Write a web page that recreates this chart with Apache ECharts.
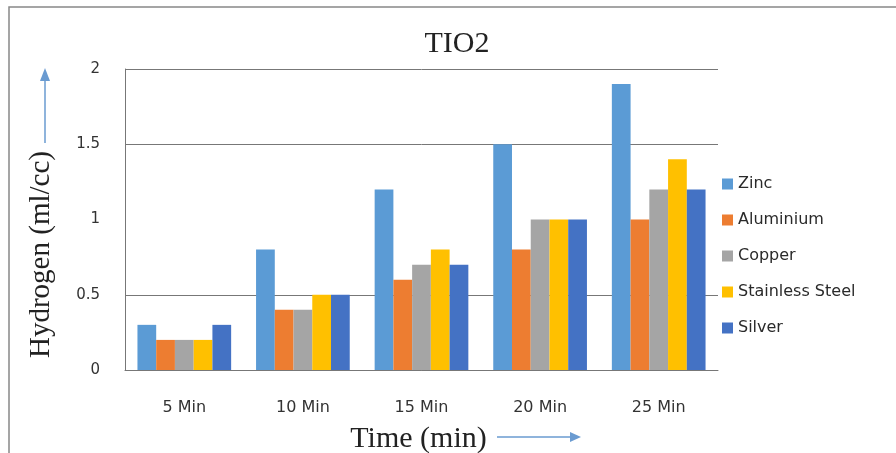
<!DOCTYPE html>
<html>
<head>
<meta charset="utf-8">
<script src="https://cdn.jsdelivr.net/npm/echarts@6/dist/echarts.min.js"></script>
<style>
  html, body { margin: 0; padding: 0; background: #fff; }
  #chart { width: 896px; height: 453px; }
</style>
</head>
<body>
<div id="chart"></div>
<script>
// Hydrogen produced with TiO2 over time, per electrode material
const categories = ['5 Min', '10 Min', '15 Min', '20 Min', '25 Min'];
const zinc = [0.3, 0.8, 1.2, 1.5, 1.9];
const aluminium = [0.2, 0.4, 0.6, 0.8, 1.0];
const copper = [0.2, 0.4, 0.7, 1.0, 1.2];
const stainlessSteel = [0.2, 0.5, 0.8, 1.0, 1.4];
const silver = [0.3, 0.5, 0.7, 1.0, 1.2];

const seriesNames = ['Zinc', 'Aluminium', 'Copper', 'Stainless Steel', 'Silver'];
const seriesData = [zinc, aluminium, copper, stainlessSteel, silver];
const colors = ['#5B9BD5', '#ED7D31', '#A5A5A5', '#FFC000', '#4472C4'];

const chart = echarts.init(document.getElementById('chart'));
const serif = '"Liberation Serif", "Times New Roman", serif';
const sans = '"DejaVu Sans", sans-serif';
const arrowColor = '#6A9BD1';

chart.setOption({
  animation: false,
  color: colors,
  title: {
    text: 'TIO2',
    left: 452,
    top: 24,
    textAlign: 'center',
    textStyle: { fontFamily: serif, fontWeight: 'normal', fontSize: 30, color: '#222' }
  },
  legend: {
    orient: 'vertical',
    left: 717,
    top: 171,
    itemWidth: 11,
    itemHeight: 11,
    itemGap: 20,
    icon: 'rect',
    data: seriesNames,
    textStyle: { fontFamily: sans, fontSize: 16, color: '#2a2a2a' }
  },
  grid: { left: 125, right: 178, top: 69, bottom: 83, containLabel: false, outerBoundsMode: 'none' },
  xAxis: {
    type: 'category',
    data: categories,
    name: 'Time (min)',
    nameLocation: 'middle',
    nameGap: 54,
    nameTextStyle: { fontFamily: serif, fontSize: 30, color: '#222', padding: [0, 6, 0, 0] },
    axisLine: { show: true, lineStyle: { color: '#777', width: 1 } },
    axisTick: { show: false },
    axisLabel: { margin: 30, fontFamily: sans, fontSize: 16, color: '#333' }
  },
  yAxis: {
    type: 'value',
    min: 0,
    max: 2,
    interval: 0.5,
    name: 'Hydrogen (ml/cc)',
    nameLocation: 'middle',
    nameGap: 69,
    nameTextStyle: { fontFamily: serif, fontSize: 29, color: '#222', padding: [0, 70, 0, 0] },
    axisLine: { show: true, lineStyle: { color: '#777', width: 1 } },
    axisTick: { show: false },
    axisLabel: { margin: 25, fontFamily: sans, fontSize: 15, color: '#333' },
    splitLine: {
      show: true,
      lineStyle: { color: ['#777', '#777', 'rgba(0,0,0,0)', '#777', '#777'], width: 1 }
    }
  },
  series: seriesNames.map((name, i) => ({
    name: name,
    type: 'bar',
    data: seriesData[i],
    barGap: '0%',
    barCategoryGap: '21%',
    itemStyle: { color: colors[i] }
  })),
  graphic: [
    // outer frame
    {
      type: 'rect',
      shape: { x: 9, y: 7, width: 900, height: 460 },
      style: { fill: 'none', stroke: '#888', lineWidth: 1.5 },
      silent: true
    },
    // vertical arrow above the value axis name
    {
      type: 'line',
      shape: { x1: 45, y1: 143, x2: 45, y2: 80 },
      style: { stroke: arrowColor, lineWidth: 1.5 }
    },
    {
      type: 'polygon',
      shape: { points: [[45, 68], [40, 81], [50, 81]] },
      style: { fill: arrowColor }
    },
    // horizontal arrow after the time axis name
    {
      type: 'line',
      shape: { x1: 497, y1: 437, x2: 572, y2: 437 },
      style: { stroke: arrowColor, lineWidth: 1.5 }
    },
    {
      type: 'polygon',
      shape: { points: [[581, 437], [570, 432], [570, 442]] },
      style: { fill: arrowColor }
    }
  ]
});
</script>
</body>
</html>
